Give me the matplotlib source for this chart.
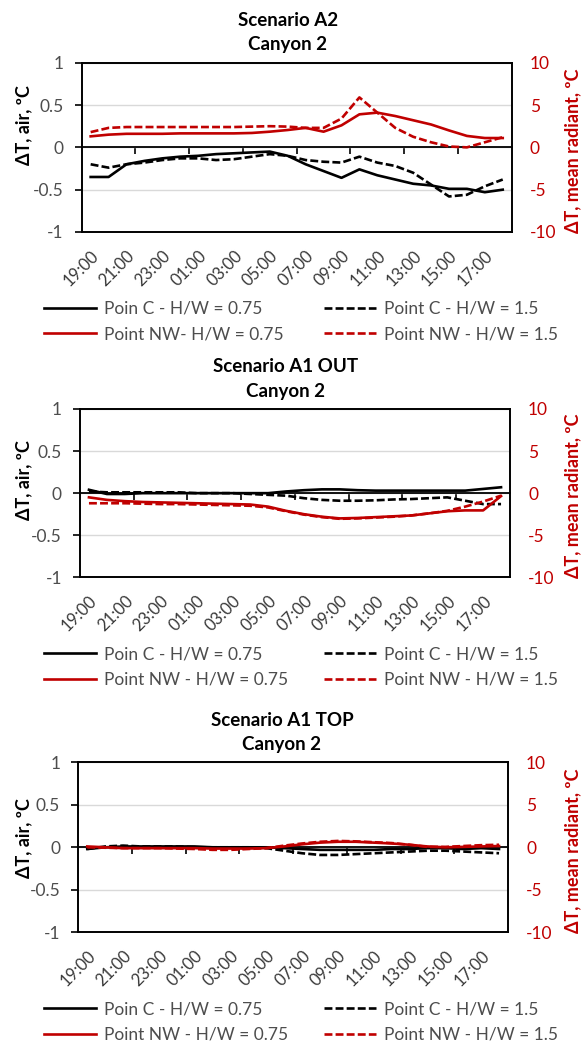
import matplotlib.pyplot as plt
import numpy as np

plt.rcParams['font.family'] = ['Lato', 'DejaVu Sans']
plt.rcParams['axes.unicode_minus'] = False

hours = ['19:00', '20:00', '21:00', '22:00', '23:00', '00:00', '01:00', '02:00',
         '03:00', '04:00', '05:00', '06:00', '07:00', '08:00', '09:00', '10:00',
         '11:00', '12:00', '13:00', '14:00', '15:00', '16:00', '17:00', '18:00']

# Scenario A2 - air (left axis) and mean radiant (right axis)
a2_c_075 = [-0.35, -0.35, -0.20, -0.16, -0.13, -0.11, -0.10, -0.08, -0.07, -0.06, -0.05, -0.10,
            -0.20, -0.28, -0.36, -0.26, -0.33, -0.38, -0.43, -0.45, -0.49, -0.49, -0.53, -0.50]
a2_c_15 = [-0.20, -0.24, -0.20, -0.18, -0.15, -0.13, -0.13, -0.15, -0.14, -0.11, -0.08, -0.10,
           -0.15, -0.17, -0.18, -0.11, -0.18, -0.22, -0.30, -0.44, -0.58, -0.56, -0.46, -0.38]
a2_nw_075 = [1.3, 1.5, 1.6, 1.6, 1.6, 1.65, 1.65, 1.65, 1.65, 1.7, 1.85, 2.05,
             2.3, 1.85, 2.6, 3.9, 4.1, 3.7, 3.2, 2.7, 2.0, 1.35, 1.1, 1.1]
a2_nw_15 = [1.8, 2.3, 2.4, 2.4, 2.4, 2.4, 2.4, 2.4, 2.4, 2.45, 2.5, 2.45,
            2.3, 2.3, 3.4, 5.9, 4.1, 2.3, 1.25, 0.6, 0.1, 0.0, 0.6, 1.2]

# Scenario A1 OUT
out_c_075 = [0.04, -0.01, -0.01, 0.00, 0.00, 0.00, 0.00, 0.00, 0.00, 0.00, 0.00, 0.02,
             0.035, 0.045, 0.045, 0.035, 0.03, 0.03, 0.03, 0.03, 0.03, 0.03, 0.05, 0.07]
out_c_15 = [0.02, 0.01, 0.01, 0.01, 0.01, 0.01, 0.00, 0.00, 0.00, -0.01, -0.02, -0.03,
            -0.06, -0.08, -0.09, -0.09, -0.085, -0.075, -0.07, -0.06, -0.05, -0.09, -0.13, -0.13]
out_nw_075 = [-0.5, -0.8, -0.95, -1.05, -1.1, -1.15, -1.2, -1.25, -1.3, -1.35, -1.6, -2.1,
              -2.5, -2.8, -3.0, -2.95, -2.85, -2.75, -2.65, -2.4, -2.15, -2.05, -2.05, -0.35]
out_nw_15 = [-1.2, -1.2, -1.2, -1.25, -1.3, -1.3, -1.35, -1.4, -1.45, -1.5, -1.7, -2.15,
             -2.55, -2.85, -3.05, -3.0, -2.9, -2.8, -2.65, -2.4, -2.1, -1.6, -1.0, -0.3]

# Scenario A1 TOP
top_c_075 = [-0.02, 0.00, 0.01, 0.01, 0.01, 0.01, 0.01, 0.00, 0.00, 0.00, 0.00, -0.01,
             -0.02, -0.03, -0.03, -0.03, -0.03, -0.02, -0.02, -0.01, -0.01, -0.02, -0.01, -0.02]
top_c_15 = [-0.02, 0.01, 0.02, 0.01, 0.01, 0.01, 0.00, 0.00, 0.00, 0.00, -0.01, -0.04,
            -0.07, -0.09, -0.09, -0.08, -0.07, -0.06, -0.05, -0.04, -0.04, -0.05, -0.06, -0.07]
top_nw_075 = [0.1, 0.0, -0.1, -0.1, -0.1, -0.1, -0.1, -0.15, -0.15, -0.15, -0.1, 0.1,
              0.35, 0.55, 0.65, 0.65, 0.55, 0.45, 0.3, 0.1, 0.0, 0.05, 0.1, 0.15]
top_nw_15 = [0.0, -0.05, -0.1, -0.1, -0.1, -0.15, -0.2, -0.3, -0.3, -0.2, -0.1, 0.2,
             0.45, 0.65, 0.75, 0.7, 0.6, 0.5, 0.3, 0.05, 0.05, 0.15, 0.25, 0.3]

labels_a2 = ['Poin C - H/W = 0.75', 'Point C - H/W = 1.5', 'Point NW- H/W = 0.75', 'Point NW - H/W = 1.5']
labels_a1 = ['Poin C - H/W = 0.75', 'Point C - H/W = 1.5', 'Point NW - H/W = 0.75', 'Point NW - H/W = 1.5']

RED = '#C00000'
GREY = '#4d4d4d'
W, H = 581, 1043

fig = plt.figure(figsize=(W / 100, H / 100), dpi=100)


def draw_panel(box, title, c075, c15, nw075, nw15, labels, title_x, ylab_y):
    left, top, right, bottom = box
    ax = fig.add_axes([left / W, 1 - bottom / H, (right - left) / W, (bottom - top) / H])
    ax2 = ax.twinx()
    x = np.arange(len(hours))

    l1, = ax.plot(x, c075, color='black', lw=1.9, zorder=3)
    l2, = ax.plot(x, c15, color='black', lw=1.9, dashes=(3, 1.2), zorder=3)
    l3, = ax2.plot(x, nw075, color=RED, lw=1.9)
    l4, = ax2.plot(x, nw15, color=RED, lw=1.9, dashes=(3, 1.2))

    ax.set_xlim(-0.5, 23.5)
    ax.set_ylim(-1, 1)
    ax2.set_ylim(-10, 10)
    ax.set_yticks([-1, -0.5, 0, 0.5, 1])
    ax.set_yticklabels(['-1', '-0.5', '0', '0.5', '1'])
    ax2.set_yticks([-10, -5, 0, 5, 10])
    ax2.set_yticklabels(['-10', '-5', '0', '5', '10'])
    ax.set_xticks(x[::2])
    ax.set_xticklabels(hours[::2])
    ax.set_xticks(np.arange(2.5, 21, 3), minor=True)

    ax.grid(axis='y', color='#D9D9D9', lw=1)
    ax.set_axisbelow(True)

    # zero line with tick marks, frame from the twin axes
    for s in ['top', 'right', 'left']:
        ax.spines[s].set_visible(False)
    ax.spines['bottom'].set_position(('data', 0))
    ax.spines['bottom'].set_linewidth(1.3)
    ax.tick_params(axis='x', which='major', length=0, labelbottom=False)
    ax.tick_params(axis='x', which='minor', direction='out', length=5, width=1.2, color='black')
    ax.tick_params(axis='y', direction='out', length=5, width=1.2, color='black',
                   labelsize=12.5, labelcolor=GREY, pad=8)

    for s in ax2.spines.values():
        s.set_linewidth(1.4)
        s.set_color('black')
    ax2.xaxis.set_visible(True)
    ax2.tick_params(axis='x', which='both', length=0, bottom=True, labelbottom=True,
                    top=False, labeltop=False, labelsize=12, labelcolor='#3a3a3a', pad=11,
                    labelrotation=45)
    plt.setp(ax2.get_xticklabels(), ha='right', rotation_mode='anchor')
    ax2.tick_params(axis='y', length=0, labelsize=12.5, labelcolor=RED, pad=13)

    fig.text(title_x / W, 1 - (top - 42) / H, title, ha='center', va='center',
             fontsize=13.5, weight='bold')
    fig.text(title_x / W, 1 - (top - 18) / H, 'Canyon 2', ha='center', va='center',
             fontsize=13.5, weight='bold')
    fig.text(24 / W, 1 - ylab_y / H, 'ΔT, air, ºC', rotation=90, ha='center', va='center',
             fontsize=13, weight='bold')
    fig.text(573 / W, 1 - ((top + bottom) / 2 + 3) / H, 'ΔT, mean radiant, ºC', rotation=90,
             ha='center', va='center', fontsize=13, weight='bold', color=RED)

    leg_top = 1 - (bottom + 69) / H
    fig.legend([l1, l3], [labels[0], labels[2]], loc='upper left',
               bbox_to_anchor=(44 / W, leg_top), frameon=False, fontsize=12.5,
               handlelength=3.0, handletextpad=0.45, labelspacing=0.55,
               borderpad=0, borderaxespad=0, labelcolor=GREY)
    fig.legend([l2, l4], [labels[1], labels[3]], loc='upper left',
               bbox_to_anchor=(324 / W, leg_top), frameon=False, fontsize=12.5,
               handlelength=3.0, handletextpad=0.45, labelspacing=0.55,
               borderpad=0, borderaxespad=0, labelcolor=GREY)


draw_panel((81.7, 62.7, 511.7, 232), 'Scenario A2',
           a2_c_075, a2_c_15, a2_nw_075, a2_nw_15, labels_a2, 288, 125)
draw_panel((80, 409, 510, 577.3), 'Scenario A1 OUT',
           out_c_075, out_c_15, out_nw_075, out_nw_15, labels_a1, 286, 480)
draw_panel((78.3, 762.3, 508, 932.3), 'Scenario A1 TOP',
           top_c_075, top_c_15, top_nw_075, top_nw_15, labels_a1, 282, 838)

plt.savefig('out.png', dpi=100)
